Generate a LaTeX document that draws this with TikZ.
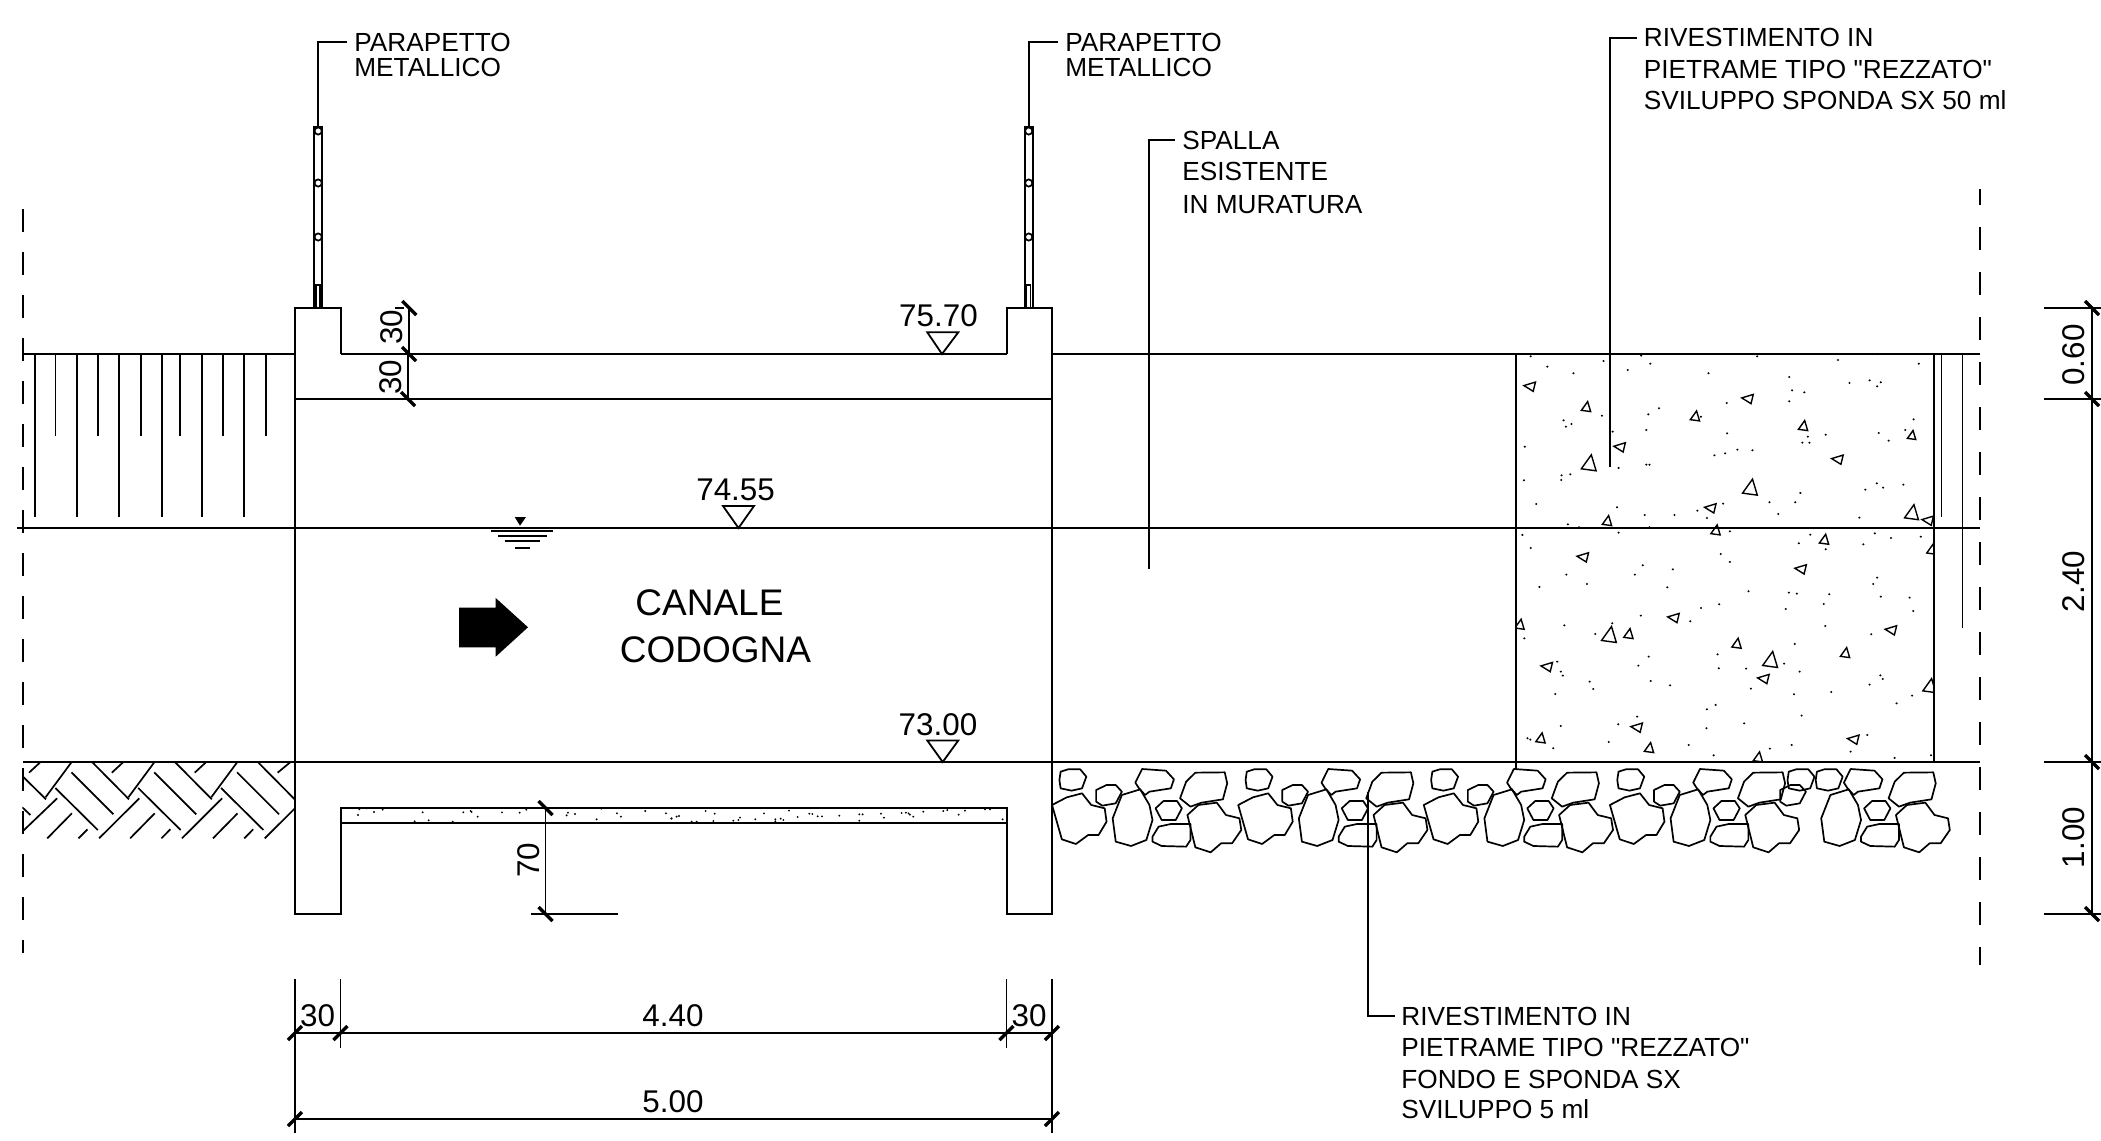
\documentclass[tikz,border=0pt]{standalone}
\usepackage{fontspec}
\setmainfont{Liberation Sans}
\newfontfamily\libq{Liberation Sans}
\newcommand\ftS{\fontsize{13.1}{13.1}\selectfont}
\newcommand\ftD{\fontsize{15.7}{15.7}\selectfont}
\newcommand\ftC{\fontsize{18.5}{18.5}\selectfont}
\tikzset{
  ln/.style={line width=1pt,line join=miter},
  thn/.style={line width=0.85pt},
  tk/.style={line width=1.7pt},
  tx/.style={anchor=base west,inner sep=0pt,font=\ftS},
  dm/.style={anchor=base,inner sep=0pt,font=\ftD},
  dr/.style={anchor=base,inner sep=0pt,font=\ftD,rotate=90},
  lev/.style={line width=0.9pt,line join=miter},
  stn/.style={line width=0.85pt,line join=round},
  hat/.style={line width=0.85pt},
  trg/.style={line width=0.7pt,line join=miter},
  ldash/.style={line width=1pt,dash pattern=on 11.5pt off 10pt},
  rdash/.style={line width=1pt,dash pattern=on 11.5pt off 11pt,dash phase=3.5pt},
}
\newcommand\tkF[2]{\draw[tk] (#1-7,#2+7) -- (#1+7,#2-7);}
\newcommand\tkB[2]{\draw[tk] (#1-7,#2-7) -- (#1+7,#2+7);}
\newcommand\parap[1]{%
  \begin{scope}[shift={(#1,0)}]
    \draw[ln] (314,127) rectangle (322.3,308);
    \draw[thn] (316,308) -- (316,285) -- (320,285) -- (320,308);
    \foreach \c in {131,183,237}{\draw[thn,fill=white] (318.2,\c) circle[radius=3.6];}
  \end{scope}}
\newcommand\stoneA{\draw[stn] (50,95)--(62,88)--(82,88)--(92,110)--(85,145)--(68,152)--(50,145)--(48,120)--cycle;}
\newcommand\stoneC{\draw[stn] (108,150)--(125,135)--(140,135)--(150,155)--(140,190)--(118,197)--(108,185)--cycle;}
\newcommand\stoneB{\draw[stn] (36,195)--(60,172)--(85,160)--(100,195)--(122,205)--(125,245)--(112,285)--(95,285)--(75,312)--(52,298)--cycle;}
\newcommand\stoneRest{%
  \draw[stn] (135,235)--(150,165)--(180,148)--(195,195)--(200,240)--(190,300)--(165,318)--(140,305)--cycle;
  \draw[stn] (172,128)--(183,87)--(222,92)--(235,118)--(230,145)--(195,155)--(188,165)--(178,145)--cycle;
  \draw[stn] (245,175)--(255,125)--(270,98)--(318,97)--(322,130)--(315,178)--(280,188)--(262,200)--cycle;
  \draw[stn] (205,205)--(218,183)--(240,183)--(248,205)--(238,240)--(215,240)--cycle;
  \draw[stn] (257,225)--(275,195)--(305,188)--(320,225)--(342,235)--(345,270)--(330,310)--(312,310)--(295,337)--(270,322)--cycle;
  \draw[stn] (200,290)--(210,260)--(230,252)--(262,252)--(262,300)--(255,320)--(215,318)--(200,305)--cycle;}
\newcommand\triU[3]{\draw[trg,shift={(1480+#1/2.525,320+#2/3)},scale=#3] (-.95,.6)--(.3,-1.15)--(.9,.85)--cycle;}
\newcommand\triL[3]{\draw[trg,shift={(1480+#1/2.525,320+#2/3)},scale=#3] (-1.35,-.15)--(.95,-.85)--(.5,1)--cycle;}
\begin{document}
\begin{tikzpicture}[x=0.5pt,y=-0.5pt]
\useasboundingbox (0,0) rectangle (2101,1141);
\fill[white] (0,0) rectangle (2101,1141);
% centre lines
\draw[ldash] (23,209) -- (23,953);
\draw[rdash] (1980,189) -- (1980,965);
% horizontals
\draw[ln] (23,354) -- (295,354);
\draw[ln] (340.5,354) -- (1006.5,354);
\draw[ln] (1052,354) -- (1980,354);
\draw[ln] (295,399) -- (1052,399);
\draw[ln] (17,528) -- (1980,528);
\draw[ln] (23,762) -- (1980,762);
% walls and slab
\draw[ln] (340.5,354) -- (340.5,308) -- (295,308) -- (295,914) -- (340.5,914) -- (340.5,808) -- (1006.5,808) -- (1006.5,914) -- (1052,914) -- (1052,308) -- (1006.5,308) -- (1006.5,354);
\draw[ln] (340.5,823) -- (1006.5,823);
% parapets
\parap{0}
\parap{710.5}
% soil hatch
\foreach \x in {34.8,76.8,119,162,202,244}{\draw[hat] (\x,354) -- (\x,517);}
\foreach \x in {55.4,97.8,141,180,223,266}{\draw[hat] (\x,354) -- (\x,436);}
\draw[hat] (1941.4,354) -- (1941.4,516.7);
\draw[hat] (1962.4,354) -- (1962.4,628);
% herringbone
\begin{scope}[shift={(0,720)},xscale=0.4464,yscale=0.3333]
  \clip (50,127) rectangle (662,360);
  \foreach \s in {0,185.6,371.2}{
    \begin{scope}[shift={(\s,0)}]
      \draw[hat] (65,158)--(90,127);
      \draw[hat] (102,232)--(160,127);
      \draw[hat] (207,127)--(289,238);
      \draw[hat] (160,157)--(254,283);
      \draw[hat] (124,204)--(219,330);
      \draw[hat] (222,355)--(312,235);
      \draw[hat] (106,355)--(161,280);
      \draw[hat] (176,355)--(196,328);
    \end{scope}}
  \draw[hat] (622,158)--(650,127);
  \draw[hat] (50,168)--(103,238);
  \draw[hat] (50,262)--(68,285);
  \draw[hat] (50,335)--(128,235);
\end{scope}
% stones
\begin{scope}[shift={(1030,740)},xscale=0.6124,yscale=0.3333]
  \foreach \s in {0,304,607,911}{
    \begin{scope}[shift={(\s,0)}]
      \stoneA \stoneB \stoneC \stoneRest
    \end{scope}}
  \begin{scope}[shift={(1157,0)}]\stoneRest\end{scope}
  \begin{scope}[shift={(1189,0)}]\stoneA\end{scope}
  \begin{scope}[shift={(1235,0)}]\stoneA\end{scope}
  \begin{scope}[shift={(1117,0)}]\stoneC\end{scope}
\end{scope}
% rock facing
\draw[ln] (1516,354) -- (1516,762);
\draw[ln] (1934,354) -- (1934,762);
\begin{scope}
  \clip (1516,354) rectangle (1934,762);
  \triL{128}{199}{5}\triU{268}{262}{5}\triU{543}{290}{5}\triL{678}{236}{5}\triU{816}{319}{5}
  \triU{1090}{347}{4.5}\triL{355}{381}{5}\triL{905}{418}{5}\triU{275}{432}{8}\triU{682}{505}{8}
  \triL{584}{564}{5}\triU{321}{604}{5}\triU{1090}{580}{7.5}\triL{1133}{601}{5}\triU{595}{632}{5}
  \triU{869}{660}{5}\triU{1140}{690}{5}\triL{262}{711}{5}\triL{812}{747}{5}\triU{100}{915}{5}
  \triL{491}{893}{5}\triU{375}{943}{5}\triU{326}{947}{8}\triL{1040}{930}{5}\triU{648}{972}{5}
  \triU{922}{1000}{5}\triU{733}{1022}{8}\triL{171}{1040}{5}\triL{718}{1076}{5}\triU{1135}{1100}{7}
  \triL{398}{1222}{5}\triU{153}{1256}{5}\triU{427}{1285}{5}\triL{945}{1258}{5}\triU{702}{1313}{5}
\end{scope}
\begin{scope}[shift={(1480,320)},xscale=0.396,yscale=0.3333]
  \foreach \a/\b in {128/109,170/140,236/160,312/123,373/150,407/107,430/131,577/160,700/109,781/171,904/120,984/181,1012/187,1003/199,933/189,1108/131,1003/102,
  788/211,819/217,781/244,623/249,452/265,425/283,308/287,558/290,211/301,231/312,217/320,420/330,335/335,624/340,873/344,1007/339,1032/362,1074/330,1095/298,828/350,814/368,832/368,113/380,
  592/406,619/400,650/389,688/391,350/444,420/434,428/434,228/463,206/466,205/480,111/481,
  1002/490,1018/503,973/509,1069/494,809/519,796/547,731/547,753/582,142/552,346/562,614/551,549/572,416/585,491/585,573/594,958/593,222/613,250/622,428/622,
  107/645,350/638,631/634,834/644,997/640,1038/654,1113/650,805/670,873/688,968/673,128/684,608/702,631/726,411/736,487/748,391/764,218/764,150/801,270/792,473/802,1003/773,993/792,678/814,780/818,800/821,882/823,1012/830,1085/833,1094/873,868/852,772/867,604/853,558/864,531/904,406/887,334/910,213/916,291/942,112/955,872/918,988/943,795/972,600/1003,426/1010,400/1037,603/1045,672/1046,768/1031,807/1055,195/1025,204/1055,209/1067,277/1085,286/1107,431/1083,480/1096,684/1106,190/1122,793/1123,887/1116,984/1094,1011/1066,1017/1077,1091/1127,1052/1150,595/1155,573/1168,812/1187,397/1190,667/1210,349/1213,572/1225,204/1218,978/1245,120/1255,127/1259,325/1266,185/1285,527/1275,787/1275,732/1286,590/1306,936/1295,1047/1314,1139/1306}
  {\fill (\a,\b) ellipse[x radius=3,y radius=3.3];}
\end{scope}
% slab dots
\begin{scope}[shift={(330,800)},scale=0.3333]
  \foreach \a/\b in {88/28,110/25,132/36,158/29,84/45,278/37,296/61,254/64,368/65,400/37,422/33,425/36,443/50,516/37,569/38,589/29,714/38,710/46,735/42,800/58,814/26,861/40,873/50,946/33,1008/40,1024/56,1040/50}
  {\fill (\a,\b) circle[radius=3.2];}
\end{scope}
\begin{scope}[shift={(670,800)},scale=0.3333]
  \foreach \a/\b in {5/55,27/48,107/33,134/41,130/63,65/65,80/65,190/62,205/60,210/53,256/58,282/40,357/32,316/58,332/56,340/60,316/64,383/51,418/41,427/42,443/49,456/49,508/47,568/43,578/43,568/62,633/41,642/53,695/39,708/38,716/40,720/44,730/50,760/35,820/33,832/30,866/44,885/32,945/28,960/28,998/58}
  {\fill (\a,\b) circle[radius=3.2];}
\end{scope}
% upper left dimensions
\draw[thn] (409.3,308) -- (409.3,354);
\draw[thn] (408,354) -- (408,399);
\draw[thn] (395,308) -- (404,308);
\draw[ln] (395,354) -- (467,354);
\draw[ln] (395,399) -- (472,399);
\tkB{409.3}{308}
\tkB{409}{354}
\tkB{408}{399}
\node[dr] (d30a) at (402,327) {30};
\node[dr] (d30b) at (401,377) {30};
% slab dimension
\draw[thn] (545.5,808) -- (545.5,914);
\draw[ln] (531,914) -- (618,914);
\tkB{545.5}{808}
\tkB{545.5}{914}
\node[dr] (d70) at (539,860) {70};
% bottom dimensions
\draw[thn] (295,979) -- (295,1133);
\draw[thn] (340.5,979) -- (340.5,1048);
\draw[thn] (1006.5,979) -- (1006.5,1048);
\draw[thn] (1052,979) -- (1052,1133);
\draw[ln] (295,1033) -- (1052,1033);
\draw[ln] (295,1119) -- (1052,1119);
\tkF{295}{1033}\tkF{340.5}{1033}\tkF{1006.5}{1033}\tkF{1052}{1033}
\tkF{295}{1119}\tkF{1052}{1119}
\node[dm] (d30c) at (317.6,1026) {30};
\node[dm] (d440) at (673,1026) {4.40};
\node[dm] (d30d) at (1029,1026) {30};
\node[dm] (d500) at (673,1112) {5.00};
% right dimensions
\draw[thn] (2092,308) -- (2092,914);
\foreach \y in {308,399,762,914}{\draw[ln] (2044,\y) -- (2101,\y);\tkB{2092}{\y}}
\node[dr] (d060) at (2084,355) {0.60};
\node[dr] (d240) at (2084,581.5) {2.40};
\node[dr] (d100) at (2084,837.5) {1.00};
% levels
\draw[lev] (927.3,332.3) -- (958.3,332.3) -- (942,354) -- cycle;
\draw[lev] (723,506) -- (754,506) -- (738.5,528) -- cycle;
\draw[lev] (927.3,740.5) -- (958.3,740.5) -- (942.7,762) -- cycle;
\node[dm] (l7570) at (938.5,326.7) {75.70};
\node[dm] (l7455) at (735.6,500.5) {74.55};
\node[dm] (l7300) at (938,735) {73.00};
% water symbol
\fill (514.7,517) -- (526,517) -- (520,525.7) -- cycle;
\draw[ln] (491,531) -- (552.7,531);
\draw[ln] (498,535.5) -- (547,535.5);
\draw[ln] (504.5,541) -- (540,541);
\draw[ln] (515,548) -- (530,548);
% flow arrow
\fill (459,607.7) -- (495.7,607.7) -- (495.7,598) -- (528,627.3) -- (495.7,656.7) -- (495.7,647.3) -- (459,647.3) -- cycle;
\node[anchor=base west,inner sep=0pt,font=\ftC] (canale) at (635,615.5) {CANALE};
\node[anchor=base west,inner sep=0pt,font=\ftC] (codogna) at (619.5,662.7) {CODOGNA};
% leaders and notes
\node[tx] (p1a) at (354,51) {PARAPETTO};
\node[tx] (p1b) at (354,76) {METALLICO};
\node[tx] (p2a) at (1065,51) {PARAPETTO};
\node[tx] (p2b) at (1065,76) {METALLICO};
\draw[ln] (318.2,127) -- (318.2,42) -- (347,42);
\draw[ln] (1028.7,127) -- (1028.7,42) -- (1058,42);
\node[tx] (s1) at (1182,149) {SPALLA};
\node[tx] (s2) at (1182,180) {ESISTENTE};
\node[tx] (s3) at (1182,213) {IN MURATURA};
\draw[ln] (1148.5,569) -- (1148.5,139.5) -- (1175,139.5);
\node[tx] (r1) at (1643.5,46.7) {RIVESTIMENTO IN};
\node[tx] (r2) at (1643.5,78) {\libq PIETRAME TIPO "REZZATO"};
\node[tx] (r3) at (1643.5,109.3) {SVILUPPO SPONDA SX 50 ml};
\draw[ln] (1609.5,466.7) -- (1609.5,38) -- (1637,38);
\node[tx] (b1) at (1401,1025) {RIVESTIMENTO IN};
\node[tx] (b2) at (1401,1056) {\libq PIETRAME TIPO "REZZATO"};
\node[tx] (b3) at (1401,1088) {FONDO E SPONDA SX};
\node[tx] (b4) at (1401,1118) {SVILUPPO 5 ml};
\draw[ln] (1368,791.7) -- (1368,1016) -- (1395,1016);
\draw[ln] (1515.6,762) -- (1515.6,770);
\end{tikzpicture}
\end{document}
